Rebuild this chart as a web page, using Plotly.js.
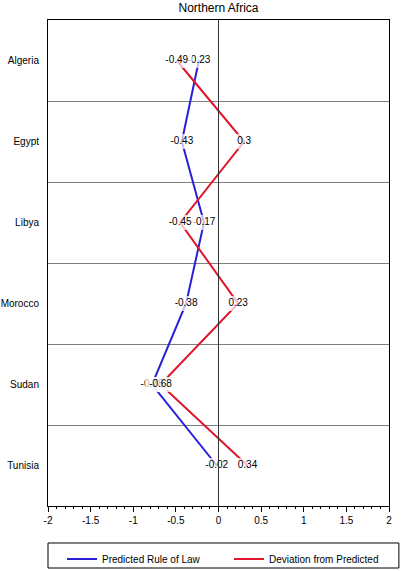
<!DOCTYPE html>
<html>
<head>
<meta charset="utf-8">
<script src="https://cdn.plot.ly/plotly-3.0.1.min.js"></script>
<style>html,body{margin:0;padding:0;background:#fff;}#chart{width:401px;height:571px;}</style>
</head>
<body>
<div id="chart"></div>
<script>
const countries = ["Algeria", "Egypt", "Libya", "Morocco", "Sudan", "Tunisia"];
const predicted = [-0.23, -0.43, -0.17, -0.38, -0.78, -0.02];
const deviation = [-0.49, 0.3, -0.45, 0.23, -0.68, 0.34];
const xTickVals = [-2, -1.5, -1, -0.5, 0, 0.5, 1, 1.5, 2];
const xTickText = ["-2", "-1.5", "-1", "-0.5", "0", "0.5", "1", "1.5", "2"];

const BLUE = '#2a1fd6';
const RED = '#e0142b';
const FONT = 'Liberation Sans, Arial, Helvetica, sans-serif';

function lineTrace(vals, name, color) {
  return {x: vals, y: countries, type: 'scatter', mode: 'lines', name: name,
    line: {color: color, width: 2}, hoverinfo: 'skip'};
}
function maskTrace(vals) {
  const labels = vals.map(v => String(v));
  return {x: vals, y: countries, type: 'scatter', mode: 'markers', showlegend: false, hoverinfo: 'skip',
    marker: {symbol: 'line-ew', size: labels.map(s => s.length * 4.2 + 1), color: '#fff',
      line: {color: '#fff', width: 15}}};
}
function textTrace(vals) {
  return {x: vals, y: countries, type: 'scatter', mode: 'text', showlegend: false, hoverinfo: 'skip',
    text: vals.map(v => String(v)), textposition: 'middle center',
    textfont: {family: FONT, size: 10, color: '#000'}};
}

const data = [
  lineTrace(predicted, 'Predicted Rule of Law', BLUE),
  lineTrace(deviation, 'Deviation from Predicted', RED),
  maskTrace(predicted), textTrace(predicted),
  maskTrace(deviation), textTrace(deviation)
];

const layout = {
  width: 401, height: 571,
  margin: {l: 48, r: 12, t: 20, b: 65, autoexpand: false},
  paper_bgcolor: '#fff', plot_bgcolor: '#fff',
  font: {family: FONT, size: 10, color: '#000'},
  title: {text: 'Northern Africa', font: {family: FONT, size: 12, color: '#000'},
    xref: 'paper', x: 0.5, xanchor: 'center', yref: 'container', y: 0.987, yanchor: 'middle'},
  showlegend: true,
  legend: {orientation: 'h', x: 0.041, xanchor: 'left', y: -0.079, yanchor: 'top',
    entrywidth: 122, entrywidthmode: 'pixels', bgcolor: 'rgba(0,0,0,0)', borderwidth: 0,
    font: {family: FONT, size: 10, color: '#000'}},
  xaxis: {range: [-2, 2], tickvals: xTickVals, ticktext: xTickText, ticks: 'outside', ticklen: 5,
    tickcolor: '#000', showgrid: false, zeroline: false,
    showline: true, linecolor: '#000', linewidth: 1, mirror: true,
    minor: {dtick: 0.1, ticks: 'outside', ticklen: 2, tickcolor: '#000', showgrid: false},
    tickfont: {family: FONT, size: 10, color: '#000'}, fixedrange: true},
  yaxis: {type: 'category', categoryorder: 'array', categoryarray: countries,
    range: [5.5, -0.5], tickson: 'boundaries', ticks: '', showgrid: true, gridcolor: '#7f7f7f', gridwidth: 1,
    showline: true, linecolor: '#000', linewidth: 1, mirror: true, zeroline: false,
    ticklabelstandoff: 6, tickfont: {family: FONT, size: 10, color: '#000'}, fixedrange: true},
  shapes: [
    {type: 'line', xref: 'x', yref: 'paper', x0: 0, x1: 0, y0: 0, y1: 1,
      line: {color: '#333', width: 1}, layer: 'above'},
    {type: 'rect', xref: 'paper', yref: 'paper', x0: 0, x1: 1.029, y0: -0.0761, y1: -0.1276,
      line: {color: '#000', width: 1}, fillcolor: 'rgba(0,0,0,0)', layer: 'above'}
  ]
};

Plotly.newPlot('chart', data, layout, {displayModeBar: false, staticPlot: true});
</script>
</body>
</html>
